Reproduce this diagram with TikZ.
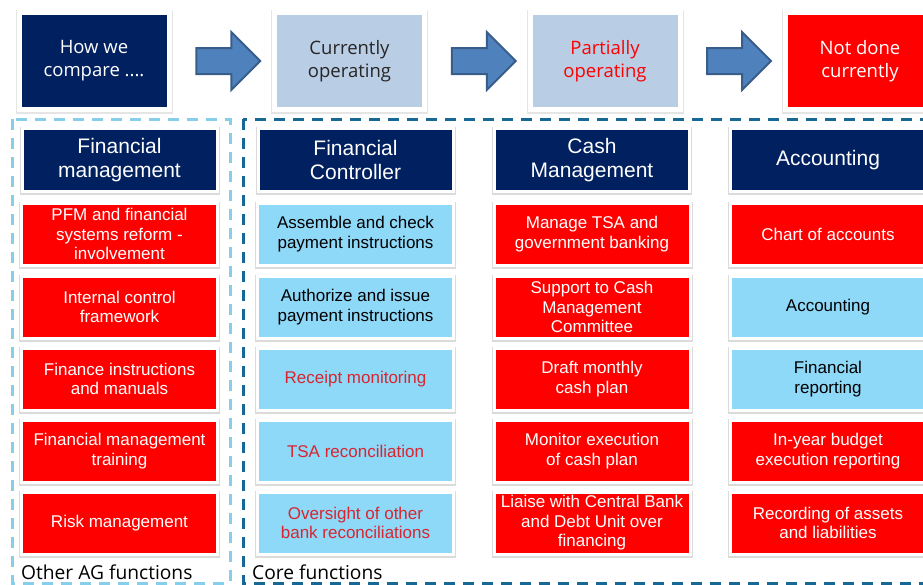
\documentclass[tikz,border=0pt]{standalone}
\usepackage{fontspec}
\setmainfont{Liberation Sans}
\newfontfamily\opensans{Open Sans}
\usetikzlibrary{shapes.arrows,calc}
\definecolor{navy}{RGB}{0, 32, 96}
\definecolor{paleblue}{RGB}{185, 205, 229}
\definecolor{skyblue}{RGB}{142, 216, 248}
\definecolor{alarmred}{RGB}{255, 0, 0}
\definecolor{textred}{RGB}{214, 38, 48}
\definecolor{arrowblue}{RGB}{79, 129, 189}
\definecolor{arrowedge}{RGB}{56, 93, 138}
\definecolor{framelight}{RGB}{135, 206, 235}
\definecolor{framedark}{RGB}{24, 104, 150}
\newcommand\itemfont{\fontsize{17}{19.5}\selectfont}
\newcommand\headfont{\fontsize{21}{23.5}\selectfont}
\newcommand\legendfont{\opensans\fontsize{18.5}{23}\selectfont}
\tikzset{
  item/.style={rectangle, draw=white, line width=3pt, minimum width=196pt, minimum height=62pt,
               inner sep=1pt, align=center, font=\itemfont,
               preaction={draw=black!14, line width=5pt, transform canvas={yshift=-1pt}}},
  redbox/.style={item, fill=alarmred, text=white},
  bluebox/.style={item, fill=skyblue, text=black},
  partbox/.style={item, fill=skyblue, text=textred},
  headbox/.style={item, fill=navy, text=white, minimum width=195pt, minimum height=63pt, font=\headfont},
  legend/.style={rectangle, draw=white, line width=5pt, minimum width=150pt, minimum height=97pt,
                 align=center, font=\legendfont,
                 preaction={draw=black!10, line width=7pt, transform canvas={yshift=-1pt}}},
  blockarrow/.style={single arrow, fill=arrowblue, draw=arrowedge, line width=2pt, inner xsep=0pt,
                     inner ysep=12pt, minimum height=64pt, single arrow head extend=16pt},
  groupframe/.style={line width=3pt, dash pattern=on 11pt off 8pt},
  grouplabel/.style={anchor=base west, inner sep=0pt, font=\opensans\fontsize{19.2}{22}\selectfont}
}
\begin{document}
\begin{tikzpicture}[x=1pt, y=-1pt]
  \useasboundingbox (0,0) rectangle (923,584);
  \clip (0,0) rectangle (923,584);
  % dashed group frames
  \draw[groupframe, color=framelight] ( 12,119) rectangle (230,583);
  \draw[groupframe, color=framedark]  (243,119) rectangle (940,583);
  % legend
  \node[legend, fill=navy,     text=white]    (howwe)   at ( 94.0, 61) {How we\\compare ....};
  \node[legend, fill=paleblue, text=black!85] (current) at (349.5, 61) {Currently\\operating};
  \node[legend, fill=paleblue, text=alarmred] (partial) at (605.0, 61) {Partially\\operating};
  \node[legend, fill=alarmred, text=white]    (notdone) at (860.0, 61) {Not done\\currently};
  \node[blockarrow] (arrow1) at ($(howwe.east)!0.5!(current.west)$)   {};
  \node[blockarrow] (arrow2) at ($(current.east)!0.5!(partial.west)$) {};
  \node[blockarrow] (arrow3) at ($(partial.east)!0.5!(notdone.west)$) {};
  % headers
  \node[headbox] (fmhead) at (119.5,160) {Financial\\management};
  \node[headbox] (fchead) at (355.5,160) {Financial\\Controller};
  \node[headbox] (cmhead) at (592.0,160) {Cash\\Management};
  \node[headbox] (achead) at (828.0,160) {Accounting};
  % other AG functions
  \node[redbox]  (fm1) at (119.5,234) {PFM and financial\\systems reform -\\involvement};
  \node[redbox]  (fm2) at (119.5,307) {Internal control\\framework};
  \node[redbox]  (fm3) at (119.5,379) {Finance instructions\\and manuals};
  \node[redbox]  (fm4) at (119.5,451) {Financial management\\training};
  \node[redbox]  (fm5) at (119.5,523) {Risk management};
  % financial controller
  \node[bluebox] (fc1) at (355.5,234) {Assemble and check\\payment instructions};
  \node[bluebox] (fc2) at (355.5,307) {Authorize and issue\\payment instructions};
  \node[partbox] (fc3) at (355.5,379) {Receipt monitoring};
  \node[partbox] (fc4) at (355.5,451) {TSA reconciliation};
  \node[partbox] (fc5) at (355.5,523) {Oversight of other\\bank reconciliations};
  % cash management
  \node[redbox]  (cm1) at (592.0,234) {Manage TSA and\\government banking};
  \node[redbox]  (cm2) at (592.0,307) {Support to Cash\\Management\\Committee};
  \node[redbox]  (cm3) at (592.0,379) {Draft monthly\\cash plan};
  \node[redbox]  (cm4) at (592.0,451) {Monitor execution\\of cash plan};
  \node[redbox]  (cm5) at (592.0,523) {Liaise with Central Bank\\and Debt Unit over\\financing};
  % accounting
  \node[redbox]  (ac1) at (828.0,234) {Chart of accounts};
  \node[bluebox] (ac2) at (828.0,307) {Accounting};
  \node[bluebox] (ac3) at (828.0,379) {Financial\\reporting};
  \node[redbox]  (ac4) at (828.0,451) {In-year budget\\execution reporting};
  \node[redbox]  (ac5) at (828.0,523) {Recording of assets\\and liabilities};
  % group labels
  \node[grouplabel] (otherlbl) at ( 21,579) {Other AG functions};
  \node[grouplabel] (corelbl)  at (252,579) {Core functions};
\end{tikzpicture}
\end{document}
